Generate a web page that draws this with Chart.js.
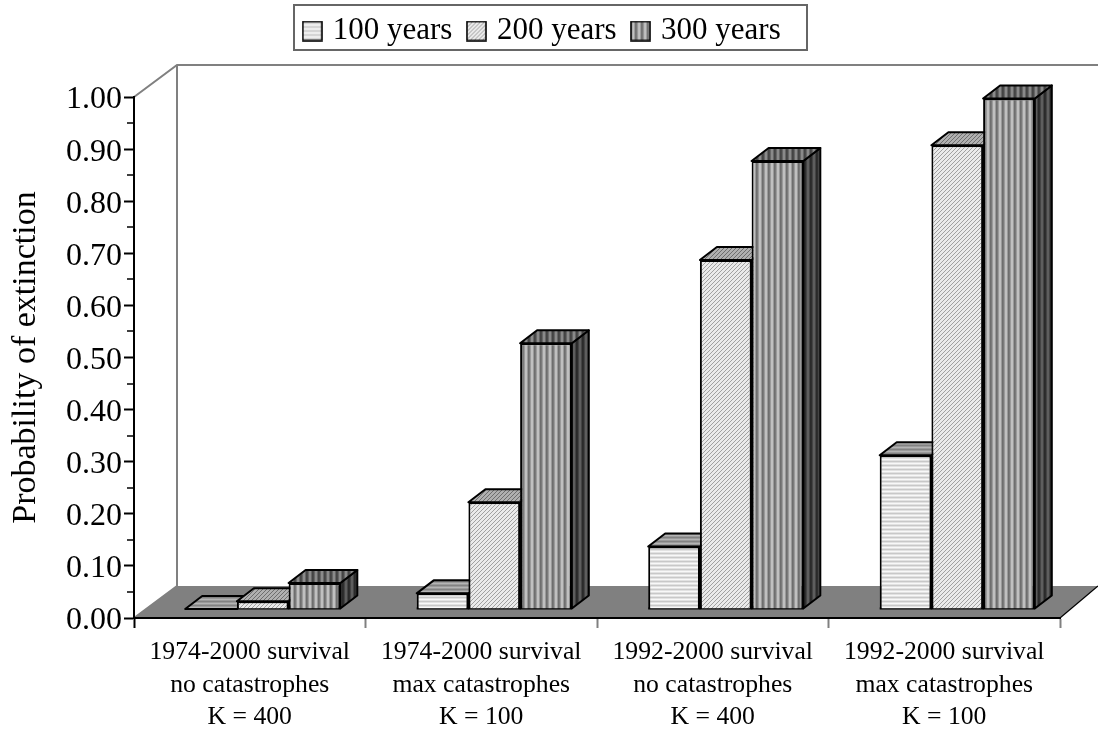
<!DOCTYPE html>
<html><head><meta charset="utf-8">
<style>html,body{margin:0;padding:0;background:#fff}#wrap{position:relative;width:1098px;height:730px}</style>
<script src="https://cdn.jsdelivr.net/npm/chart.js@4/dist/chart.umd.min.js"></script>
</head><body><div id="wrap"><canvas id="c" width="1098" height="730"></canvas></div>
<script>
const categories = [
  ['1974-2000 survival','no catastrophes','K = 400'],
  ['1974-2000 survival','max catastrophes','K = 100'],
  ['1992-2000 survival','no catastrophes','K = 400'],
  ['1992-2000 survival','max catastrophes','K = 100']
];
const seriesNames = ['100 years','200 years','300 years'];
const years100 = [0.00, 0.03, 0.12, 0.295];
const years200 = [0.015, 0.205, 0.67, 0.89];
const years300 = [0.05, 0.51, 0.86, 0.98];
const minorTicks = [0.05,0.15,0.25,0.35,0.45,0.55,0.65,0.75,0.85,0.95];

const SERIF = '"Liberation Serif","Times New Roman",serif';
const DX = 17, DY = -13;          // bar depth
const WX = 43, WY = -32;          // floor depth
const OFFX = 13, OFFY = -9;       // bars stand mid-way on the floor

function pat(w,h,fn){const c=document.createElement('canvas');c.width=w;c.height=h;const x=c.getContext('2d');fn(x);return document.createElement('canvas').getContext('2d').createPattern(c,'repeat');}
function hStripes(cols){return pat(1,cols.length,x=>cols.forEach((k,i)=>{x.fillStyle=k;x.fillRect(0,i,1,1)}));}
function vStripes(cols){return pat(cols.length,1,x=>cols.forEach((k,i)=>{x.fillStyle=k;x.fillRect(i,0,1,1)}));}
function hatch(a,b){return pat(4,4,x=>{x.fillStyle=a;x.fillRect(0,0,4,4);x.fillStyle=b;for(let i=0;i<4;i++){x.fillRect(i,(3-i)%4,1,1);}});}

const fronts = [
  hStripes(['#f8f8f8','#e2e2e2','#c8c8c8','#e2e2e2']),
  hatch('#eaeaea','#a0a0a0'),
  vStripes(['#7a7a7a','#9a9a9a','#c0c0c0','#c0c0c0','#9a9a9a','#6e6e6e'])
];
const tops = [
  hStripes(['#b4b4b4','#9a9a9a','#828282','#9a9a9a']),
  hatch('#b0b0b0','#6e6e6e'),
  vStripes(['#4a4a4a','#666666','#8a8a8a','#8a8a8a','#666666','#444444'])
];
const sides = [
  hStripes(['#8a8a8a','#707070','#5a5a5a','#707070']),
  hatch('#808080','#4a4a4a'),
  vStripes(['#2e2e2e','#444444','#5e5e5e','#5e5e5e','#444444','#2a2a2a'])
];
function swatch(p){const c=document.createElement('canvas');c.width=21;c.height=21;const x=c.getContext('2d');x.fillStyle=p;x.fillRect(1,1,19,19);x.strokeStyle='#000';x.lineWidth=1.6;x.strokeRect(1,1,19,19);return c;}

const scene3d = {
  id:'scene3d',
  beforeDraw(chart){
    const {ctx,chartArea:a}=chart, y0=a.bottom;
    ctx.save();
    ctx.fillStyle='#808080';
    ctx.beginPath();ctx.moveTo(a.left,y0);ctx.lineTo(a.left+WX,y0+WY);ctx.lineTo(chart.width,y0+WY);ctx.lineTo(a.right,y0);ctx.closePath();ctx.fill();
    ctx.strokeStyle='#000';ctx.lineWidth=1.2;
    ctx.beginPath();ctx.moveTo(a.right,y0);ctx.lineTo(chart.width,y0+WY);ctx.stroke();
    ctx.strokeStyle='#808080';ctx.lineWidth=2;
    ctx.beginPath();ctx.moveTo(a.left,a.top);ctx.lineTo(a.left+WX,a.top+WY);ctx.lineTo(chart.width,a.top+WY);
    ctx.moveTo(a.left+WX,a.top+WY);ctx.lineTo(a.left+WX,y0+WY);
    ctx.moveTo(a.left,y0);ctx.lineTo(a.left+WX,y0+WY);ctx.stroke();
    ctx.restore();
  },
  beforeDatasetsDraw(chart){
    const {ctx}=chart;
    ctx.save();ctx.translate(OFFX,OFFY);
    // depth faces, left to right, so each bar's front (drawn next) covers its neighbour's side
    seriesNames.forEach((_,i)=>{
      chart.getDatasetMeta(i).data.forEach(b=>{
        const l=b.x-b.width/2,r=b.x+b.width/2,t=b.y,bt=b.base;
        ctx.save();ctx.strokeStyle='#000';ctx.lineWidth=2;ctx.lineJoin='round';
        ctx.fillStyle=sides[i];ctx.beginPath();ctx.moveTo(r,t);ctx.lineTo(r+DX,t+DY);ctx.lineTo(r+DX,bt+DY);ctx.lineTo(r,bt);ctx.closePath();ctx.fill();ctx.stroke();
        ctx.fillStyle=tops[i];ctx.beginPath();ctx.moveTo(l,t);ctx.lineTo(l+DX,t+DY);ctx.lineTo(r+DX,t+DY);ctx.lineTo(r,t);ctx.closePath();ctx.fill();ctx.stroke();
        ctx.beginPath();ctx.moveTo(l,bt);ctx.lineTo(r,bt);ctx.stroke();
        ctx.restore();
      });
    });
  },
  afterDatasetsDraw(chart){chart.ctx.restore();},
  afterDraw(chart){
    const {ctx,scales:{y},chartArea:a}=chart;
    ctx.save();ctx.strokeStyle='#000';ctx.lineWidth=1.5;ctx.beginPath();
    minorTicks.forEach(v=>{const p=Math.round(y.getPixelForValue(v));ctx.moveTo(a.left-7,p);ctx.lineTo(a.left,p);});
    ctx.stroke();
    ctx.strokeStyle='#666';ctx.lineWidth=2;ctx.strokeRect(294,5,513,45);
    ctx.restore();
  }
};

new Chart(document.getElementById('c'),{
  type:'bar',
  plugins:[scene3d],
  data:{labels:categories,datasets:[
    {label:seriesNames[0],data:years100,backgroundColor:fronts[0]},
    {label:seriesNames[1],data:years200,backgroundColor:fronts[1]},
    {label:seriesNames[2],data:years300,backgroundColor:fronts[2]}
  ].map(d=>Object.assign(d,{borderColor:'#000',borderWidth:2,categoryPercentage:0.67,barPercentage:1,clip:false}))},
  options:{
    responsive:false,animation:false,events:[],
    layout:{padding:{left:28,right:38,top:-3.5,bottom:0}},
    plugins:{
      tooltip:{enabled:false},title:{display:false},
      legend:{display:true,position:'top',align:'center',labels:{
        usePointStyle:true,pointStyleWidth:10,boxHeight:21,padding:19,color:'#000',
        font:{family:SERIF,size:31,lineHeight:1},
        generateLabels:()=>seriesNames.map((t,i)=>({text:t,datasetIndex:i,pointStyle:swatch(fronts[i]),fillStyle:'transparent',strokeStyle:'transparent',lineWidth:0,fontColor:'#000'}))
      }}
    },
    scales:{
      x:{type:'category',position:'bottom',offset:true,
        afterFit:s=>{s.height=112;},
        border:{display:true,color:'#000',width:2},
        grid:{display:true,drawOnChartArea:false,drawTicks:true,tickLength:10,tickWidth:2,tickColor:c=>c.index===0?'#000':'#808080',offset:true},
        ticks:{autoSkip:false,maxRotation:0,minRotation:0,padding:8,color:'#000',font:{family:SERIF,size:25.7,lineHeight:1.27}}
      },
      spacer:{type:'category',position:'top',display:true,labels:categories,
        afterFit:s=>{s.height=40.5;},
        border:{display:false},grid:{display:false},ticks:{display:false}
      },
      y:{type:'linear',position:'left',min:0,max:1,
        afterFit:s=>{s.width=106;},
        border:{display:true,color:'#000',width:2},
        grid:{display:true,drawOnChartArea:false,tickLength:10,tickWidth:2,tickColor:'#000'},
        title:{display:true,text:'Probability of extinction',color:'#000',font:{family:SERIF,size:34,lineHeight:1.2},padding:{top:-22,bottom:0}},
        ticks:{stepSize:0.1,padding:2,color:'#000',font:{family:SERIF,size:32,lineHeight:'6px'},callback:v=>['',Number(v).toFixed(2)]}
      }
    }
  }
});
</script></body></html>
